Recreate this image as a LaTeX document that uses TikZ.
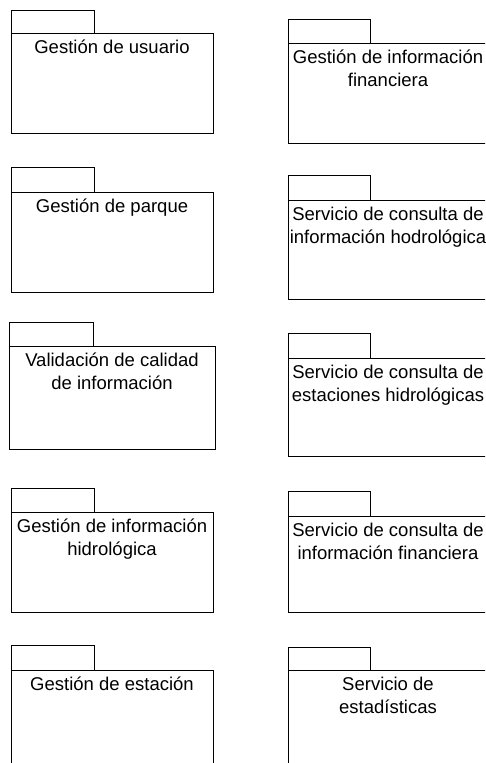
\documentclass[tikz,border=0pt]{standalone}
\usepackage{fontspec}
\setmainfont{Liberation Sans}
\tikzset{
  pkgline/.style={draw=black, line width=0.9pt},
  lbl/.style={anchor=north, inner sep=0pt, align=center, text=black,
    font=\fontsize{18.5}{23}\selectfont}
}
% #1 name, #2 body left, #3 body right, #4 tab right, #5 tab top, #6 body top, #7 bottom, #8 text
\newcommand\umlpkg[8]{%
  \draw[pkgline] (#2,#5) rectangle (#4,#6);
  \draw[pkgline] (#2,#6) rectangle (#3,#7);
  \node[lbl] (#1) at ({(#2+#3)/2},{#6+3.8}) {\strut #8};
}
\begin{document}
\begin{tikzpicture}[x=1pt,y=-1pt]
\useasboundingbox (0,0) rectangle (485,763);
\clip (0,0) rectangle (485,763);
% left column
\umlpkg{usuario}{11}{213}{94}{10}{33}{133}{Gestión de usuario}
\umlpkg{parque}{11}{213}{94}{167}{192}{292}{Gestión de parque}
\umlpkg{validacion}{9}{215}{93}{322}{346}{449}{Validación de calidad\\de información}
\umlpkg{hidro}{11}{213}{94}{488}{512}{612}{Gestión de información\\hidrológica}
\umlpkg{estacion}{11}{213}{94}{645}{670}{790}{Gestión de estación}
% right column
\umlpkg{financiera}{288}{488}{370}{19}{43}{143}{Gestión de información\\financiera}
\umlpkg{consultahidro}{288}{488}{370}{175}{200}{299}{Servicio de consulta de\\información hodrológica}
\umlpkg{consultaest}{288}{488}{370}{333}{358}{456}{Servicio de consulta de\\estaciones hidrológicas}
\umlpkg{consultafin}{288}{488}{370}{491}{516}{612}{Servicio de consulta de\\información financiera}
\umlpkg{estadisticas}{288}{488}{370}{647}{670}{790}{Servicio de\\estadísticas}
\end{tikzpicture}
\end{document}
